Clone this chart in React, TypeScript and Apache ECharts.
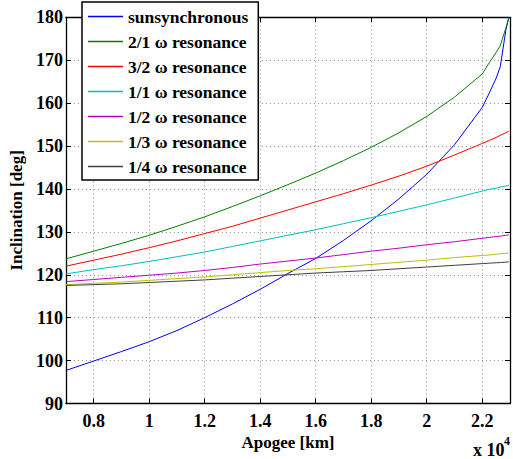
import React, { useEffect, useRef } from "react";
import * as echarts from "echarts";

const apogee = [7000, 8000, 9000, 10000, 11000, 12000, 13000, 14000, 15000, 16000, 17000, 18000, 19000, 20000, 21000, 22000, 22250, 22500, 22650, 22850, 22960];

const sunsynchronous = [97.7, 99.9, 102.1, 104.4, 107.0, 110.0, 113.2, 116.6, 120.3, 123.8, 128.0, 132.6, 137.7, 143.4, 150.3, 159.0, 162.3, 165.8, 168.5, 177.0, 180.0];
const res21 = [123.7, 125.5, 127.3, 129.2, 131.3, 133.5, 135.9, 138.4, 141.0, 143.7, 146.6, 149.7, 153.1, 156.9, 161.4, 166.8, 169.4, 171.8, 173.4, 177.5, 180.0];
const res32 = [122.0, 123.4, 124.8, 126.3, 127.9, 129.6, 131.3, 133.2, 135.1, 137.0, 138.9, 140.9, 143.0, 145.3, 147.9, 150.6, 151.3, 152.0, 152.5, 153.1, 153.5];
const res11 = [120.2, 121.2, 122.1, 123.1, 124.2, 125.3, 126.6, 127.9, 129.2, 130.5, 131.9, 133.3, 134.8, 136.3, 137.9, 139.5, 139.9, 140.2, 140.4, 140.7, 140.8];
const res12 = [118.4, 118.9, 119.4, 119.9, 120.4, 121.0, 121.7, 122.5, 123.2, 123.9, 124.7, 125.5, 126.2, 127.0, 127.7, 128.5, 128.7, 128.9, 129.0, 129.2, 129.3];
const res13 = [117.7, 118.0, 118.3, 118.7, 119.1, 119.5, 120.0, 120.5, 121.0, 121.4, 121.9, 122.4, 122.9, 123.4, 124.0, 124.5, 124.6, 124.8, 124.9, 125.0, 125.1];
const res14 = [117.5, 117.7, 117.9, 118.2, 118.5, 118.8, 119.2, 119.6, 120.0, 120.4, 120.7, 121.0, 121.4, 121.8, 122.2, 122.6, 122.7, 122.8, 122.85, 122.95, 123.0];

const seriesNames = ["sunsynchronous", "2/1 \u03c9 resonance", "3/2 \u03c9 resonance", "1/1 \u03c9 resonance", "1/2 \u03c9 resonance", "1/3 \u03c9 resonance", "1/4 \u03c9 resonance"];
const seriesValues = [sunsynchronous, res21, res32, res11, res12, res13, res14];
const seriesColors = ["#0000ff", "#008000", "#ff0000", "#00bfbf", "#bf00bf", "#bfbf00", "#404040"];

const FONT = "Liberation Serif";

export default function App() {
  const ref = useRef<HTMLDivElement>(null);
  useEffect(() => {
    if (!ref.current) return;
    const chart = echarts.init(ref.current, null, { renderer: "svg" });
    const axisLine = { show: true, lineStyle: { color: "#000", width: 1.3 } };
    const tick = { show: true, inside: true, length: 5, lineStyle: { color: "#000", width: 1 } };
    const split = { show: true, lineStyle: { color: "#888", type: [1, 3], width: 1 } };
    chart.setOption({
      animation: false,
      backgroundColor: "#fff",
      grid: { left: 62.5, right: 0.5, top: 17.3, bottom: 55.5, containLabel: false },
      legend: {
        data: seriesNames,
        orient: "vertical",
        left: 82,
        top: 2,
        backgroundColor: "#fff",
        borderColor: "#000",
        borderWidth: 1.5,
        borderRadius: 0,
        padding: [5.5, 10, 4.5, 6],
        icon: "rect",
        itemWidth: 35,
        itemHeight: 1.3,
        itemGap: 7,
        textStyle: { fontFamily: FONT, fontSize: 17.5, fontWeight: "bold", color: "#000", lineHeight: 18 },
      },
      xAxis: [
        {
          type: "value",
          min: 7000,
          max: 23000,
          splitNumber: 8,
          name: "Apogee [km]",
          nameLocation: "middle",
          nameGap: 26,
          nameTextStyle: { fontFamily: FONT, fontSize: 17, fontWeight: "bold", color: "#000" },
          axisLine,
          axisTick: tick,
          splitLine: split,
          axisLabel: {
            margin: 8,
            fontFamily: FONT,
            fontSize: 18,
            fontWeight: "bold",
            color: "#000",
            formatter: (v: number) => (Math.abs(v % 2000) < 1e-6 ? String(+(v / 10000).toFixed(2)) : ""),
          },
        },
        {
          type: "value",
          position: "top",
          min: 7000,
          max: 23000,
          splitNumber: 8,
          axisLine,
          axisTick: tick,
          splitLine: { show: false },
          axisLabel: { show: false },
        },
      ],
      yAxis: [
        {
          type: "value",
          min: 90,
          max: 180,
          interval: 10,
          name: "Inclination [deg]",
          nameLocation: "middle",
          nameGap: 35,
          nameTextStyle: { fontFamily: FONT, fontSize: 17, fontWeight: "bold", color: "#000" },
          axisLine,
          axisTick: tick,
          splitLine: split,
          axisLabel: { margin: 3, fontFamily: FONT, fontSize: 18, fontWeight: "bold", color: "#000" },
        },
        {
          type: "value",
          position: "right",
          min: 90,
          max: 180,
          interval: 10,
          axisLine,
          axisTick: tick,
          splitLine: { show: false },
          axisLabel: { show: false },
        },
      ],
      graphic: [
        {
          type: "text",
          left: 473,
          top: 441,
          style: { text: "x 10", fontFamily: FONT, fontSize: 18, fontWeight: "bold", lineHeight: 16, fill: "#000" },
        },
        {
          type: "text",
          left: 504,
          top: 435,
          style: { text: "4", fontFamily: FONT, fontSize: 12, fontWeight: "bold", lineHeight: 12, fill: "#000" },
        },
      ],
      series: seriesNames.map((name, i) => ({
        name,
        type: "line",
        xAxisIndex: 0,
        yAxisIndex: 0,
        symbol: "none",
        color: seriesColors[i],
        lineStyle: { color: seriesColors[i], width: 1 },
        data: apogee.map((x, j) => [x, seriesValues[i][j]]),
      })),
    });
    return () => chart.dispose();
  }, []);
  return <div ref={ref} style={{ position: "fixed", left: 0, top: 0, width: 513, height: 459 }} />;
}
